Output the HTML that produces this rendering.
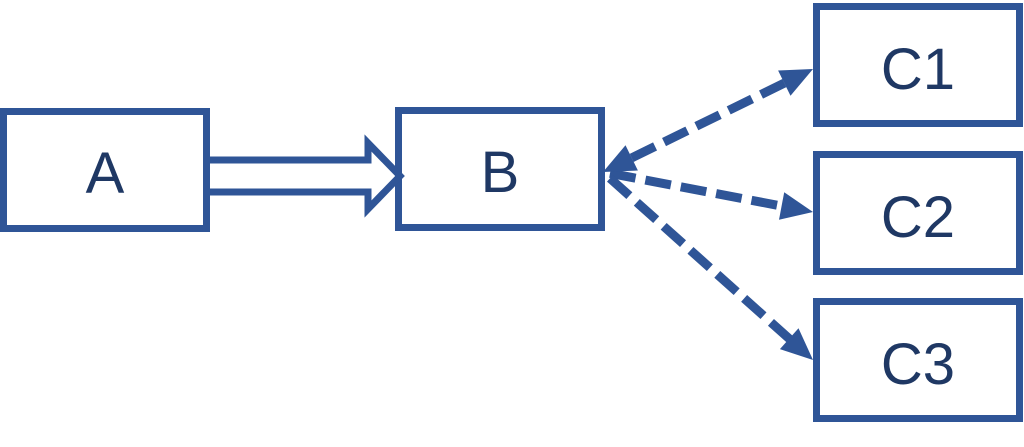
<!DOCTYPE html>
<html><head><style>html,body{margin:0;padding:0;background:#fff;}svg{display:block}</style></head>
<body>
<svg width="1024" height="447" viewBox="0 0 1024 447" xmlns="http://www.w3.org/2000/svg">
<g fill="none" stroke="#2F5597" stroke-width="7">
<rect x="3.5" y="111.5" width="203" height="117"/>
<rect x="398.5" y="110.5" width="203" height="117"/>
<rect x="816.5" y="6.5" width="203" height="117"/>
<rect x="816.5" y="154.5" width="203" height="117"/>
<rect x="816.5" y="301.5" width="203" height="117"/>
<path d="M210,160 L368,160 L368,143 L400,176 L368,209 L368,192 L210,192" stroke-linejoin="miter"/>
</g>
<g stroke="#2F5597" stroke-width="9" stroke-dasharray="26,10" fill="none">
<line x1="631.7" y1="157.9" x2="786" y2="82.3"/>
<line x1="610" y1="173.3" x2="783" y2="206.3"/>
<line x1="610" y1="178.3" x2="791" y2="340.3"/>
</g>
<g fill="#2F5597">
<polygon points="813,69 790.5,95.7 778.1,70.5"/>
<polygon points="603,172 637.9,170.5 625.5,145.3"/>
<polygon points="813,212 779.0,219.7 784.2,192.3"/>
<polygon points="813,360 779.9,349.1 798.5,328.3"/>
</g>
<g font-family="Liberation Sans, sans-serif" font-size="58" fill="#1F3864" text-anchor="middle">
<text x="105" y="193">A</text>
<text x="500" y="192">B</text>
<text x="918" y="89">C1</text>
<text x="918" y="237">C2</text>
<text x="918" y="384">C3</text>
</g>
</svg>
</body></html>
